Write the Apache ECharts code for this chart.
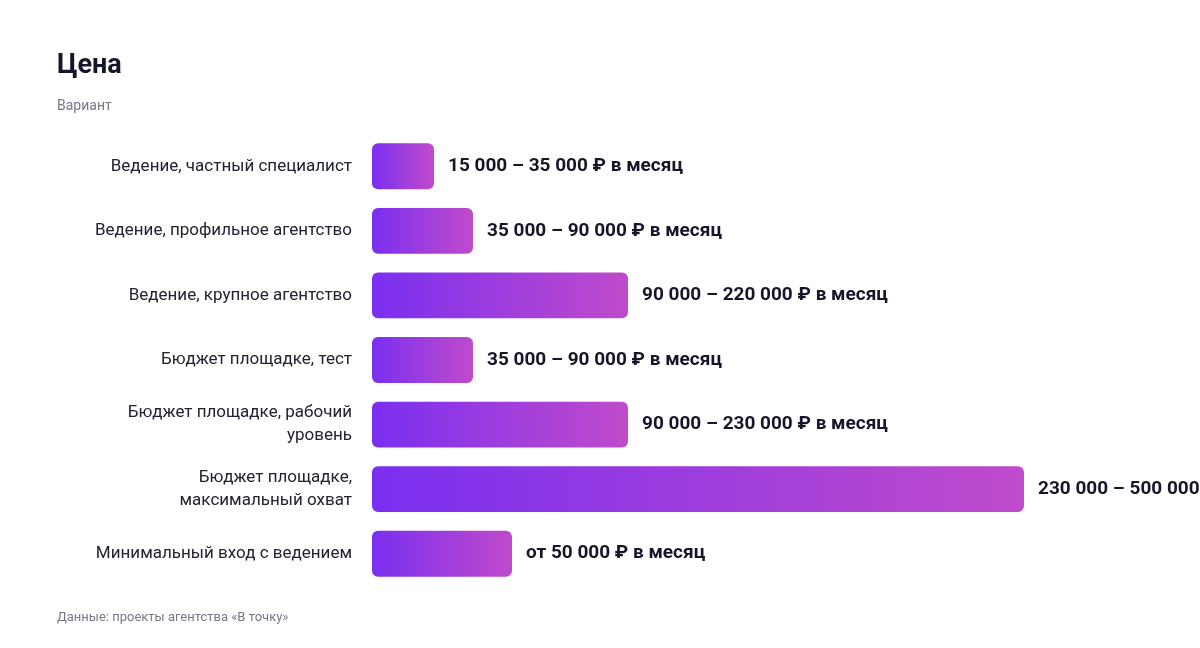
<!DOCTYPE html>
<html><head><meta charset="utf-8">
<script src="https://cdn.jsdelivr.net/npm/echarts@6/dist/echarts.min.js"></script>
<style>html,body{margin:0;background:#fff}#c{width:1200px;height:648px}</style>
</head><body><div id="c"></div>
<script>
const categories = ["Ведение, частный специалист","Ведение, профильное агентство","Ведение, крупное агентство","Бюджет площадке, тест","Бюджет площадке, рабочий\nуровень","Бюджет площадке,\nмаксимальный охват","Минимальный вход с ведением"];
const barScore = [62,101,256,101,256,652,140];
const priceLabels = ["15 000 – 35 000 ₽ в месяц","35 000 – 90 000 ₽ в месяц","90 000 – 220 000 ₽ в месяц","35 000 – 90 000 ₽ в месяц","90 000 – 230 000 ₽ в месяц","230 000 – 500 000 ₽ в месяц","от 50 000 ₽ в месяц"];
const font = "Roboto, 'Noto Sans', sans-serif";
const chart = echarts.init(document.getElementById('c'));
chart.setOption({
  animation:false,
  title:[
    {text:"Цена",left:52,top:48,textStyle:{fontFamily:font,fontSize:27,fontWeight:'bold',color:'#16162a'}},
    {text:"Вариант",left:52,top:94,textStyle:{fontFamily:font,fontSize:14,fontWeight:'normal',color:'#777788'}},
    {text:"Данные: проекты агентства «В точку»",left:52,top:606,textStyle:{fontFamily:font,fontSize:13,fontWeight:'normal',color:'#777788'}}
  ],
  grid:{left:372,right:0,top:134,height:452},
  xAxis:{type:'value',min:0,max:828,show:false},
  yAxis:{type:'category',inverse:true,data:categories,axisLine:{show:false},axisTick:{show:false},
    axisLabel:{margin:20,fontFamily:font,fontSize:17,color:'#222230',lineHeight:23,align:'right'}},
  series:[{type:'bar',data:barScore,barWidth:'71%',
    itemStyle:{borderRadius:6,color:new echarts.graphic.LinearGradient(0,0,1,0,[{offset:0,color:'#7a2ff0'},{offset:1,color:'#c04bcb'}])},
    label:{show:true,position:'right',distance:14,fontFamily:font,fontSize:19,fontWeight:'bold',color:'#16162a',
      formatter:p=>priceLabels[p.dataIndex]}}]
});
</script></body></html>
